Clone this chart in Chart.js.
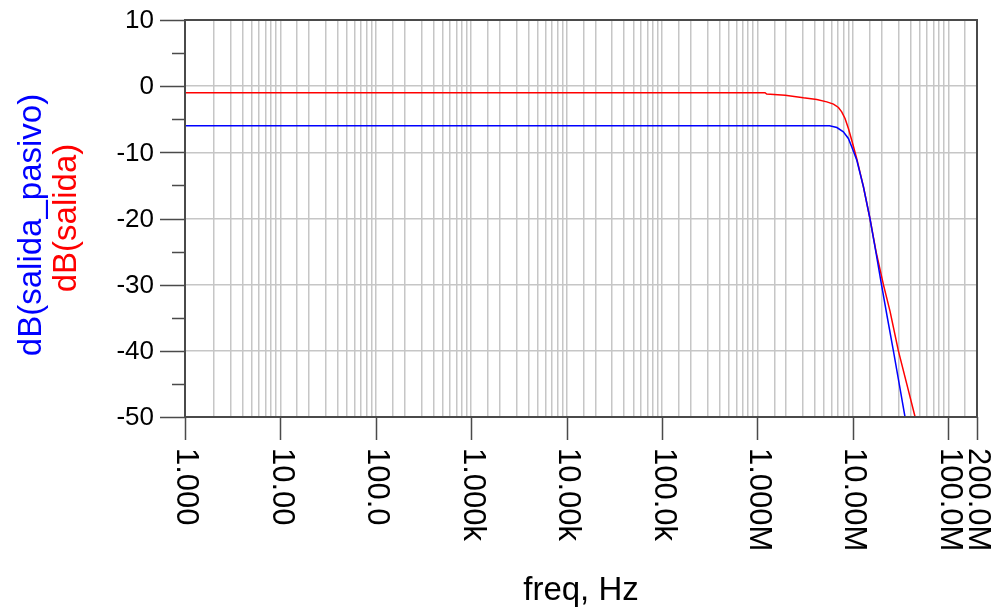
<!DOCTYPE html>
<html>
<head>
<meta charset="utf-8">
<script src="https://cdn.jsdelivr.net/npm/chart.js@4/dist/chart.umd.min.js"></script>
<style>
  html, body { margin: 0; padding: 0; background: #ffffff; }
  #wrap { width: 1000px; height: 607px; position: relative; }
</style>
</head>
<body>
<div id="wrap"><canvas id="bode"></canvas></div>
<script>
// Respuesta en frecuencia: filtro pasivo vs. salida activa
const freqPasivo = [1, 5.7e6, 6.8e6, 7.95e6, 8.97e6, 9.75e6, 11.0e6, 12.9e6, 15.1e6, 17.4e6, 19.95e6, 23.0e6, 26.6e6, 30.6e6, 35.2e6];
const dbPasivo   = [-6.0, -6.0, -6.25, -6.9, -7.9, -9.2, -11.2, -15.2, -20, -25, -30, -35, -40, -45, -50];

const freqSalida = [1, 1.2e6, 1.25e6, 1.95e6, 3.03e6, 4.19e6, 5.33e6, 6.26e6, 7.06e6, 7.64e6, 8.28e6, 8.98e6, 9.75e6, 11.0e6, 12.9e6, 15.1e6, 17.5e6, 20.9e6, 24.5e6, 30e6, 36.7e6, 44.9e6];
const dbSalida   = [-1.0, -1.0, -1.2, -1.36, -1.76, -2.0, -2.37, -2.72, -3.22, -3.88, -4.88, -6.39, -8.2, -11.0, -15.2, -20, -25, -30, -34, -40, -45, -50];

const xTickValues = [1, 10, 100, 1e3, 1e4, 1e5, 1e6, 1e7, 1e8, 2e8];
const xTickLabels = ['1.000', '10.00', '100.0', '1.000k', '10.00k', '100.0k', '1.000M', '10.00M', '100.0M', '200.0M'];
const yTickValues = [10, 0, -10, -20, -30, -40, -50];
const yMinorValues = [5, -5, -15, -25, -35, -45];

const FONT = "'Liberation Sans', Arial, sans-serif";
const AXIS_COLOR = '#4a4a4a';

function toPoints(xs, ys) {
    return xs.map((x, i) => ({ x: x, y: ys[i] }));
}

// Ejes, etiquetas y marco dibujados a mano sobre las escalas de Chart.js
const axisDecor = {
    id: 'axisDecor',
    afterDraw(chart) {
        const { ctx, chartArea: a, scales: { x, y } } = chart;
        ctx.save();

        // marco
        ctx.strokeStyle = AXIS_COLOR;
        ctx.lineWidth = 2;
        ctx.strokeRect(a.left, a.top, a.right - a.left, a.bottom - a.top);

        // marcas eje Y
        ctx.lineWidth = 1.5;
        ctx.beginPath();
        yTickValues.forEach(v => {
            const py = Math.round(y.getPixelForValue(v)) + 0.5;
            ctx.moveTo(a.left - 25, py);
            ctx.lineTo(a.left, py);
        });
        yMinorValues.forEach(v => {
            const py = Math.round(y.getPixelForValue(v)) + 0.5;
            ctx.moveTo(a.left - 13, py);
            ctx.lineTo(a.left, py);
        });
        // marcas eje X
        xTickValues.forEach(v => {
            const px = Math.round(x.getPixelForValue(v)) + 0.5;
            ctx.moveTo(px, a.bottom);
            ctx.lineTo(px, a.bottom + 23);
        });
        ctx.stroke();

        // etiquetas eje Y
        ctx.fillStyle = '#000000';
        ctx.font = '26px ' + FONT;
        ctx.textAlign = 'right';
        ctx.textBaseline = 'middle';
        yTickValues.forEach(v => {
            ctx.fillText(String(v), a.left - 31, y.getPixelForValue(v) + 1);
        });

        // etiquetas eje X (giradas 90 grados)
        ctx.font = '31px ' + FONT;
        ctx.textAlign = 'left';
        ctx.textBaseline = 'middle';
        xTickValues.forEach((v, i) => {
            ctx.save();
            ctx.translate(x.getPixelForValue(v) + 1, a.bottom + 31);
            ctx.rotate(Math.PI / 2);
            ctx.fillText(xTickLabels[i], 0, 0);
            ctx.restore();
        });

        // titulos
        ctx.font = '33px ' + FONT;
        ctx.textAlign = 'center';
        ctx.textBaseline = 'alphabetic';
        ctx.fillText('freq, Hz', (a.left + a.right) / 2, 600);

        ctx.save();
        ctx.translate(41, 225);
        ctx.rotate(-Math.PI / 2);
        ctx.fillStyle = '#0000ff';
        ctx.fillText('dB(salida_pasivo)', 0, 0);
        ctx.restore();

        ctx.save();
        ctx.translate(76, 218);
        ctx.rotate(-Math.PI / 2);
        ctx.fillStyle = '#ff0000';
        ctx.fillText('dB(salida)', 0, 0);
        ctx.restore();

        ctx.restore();
    }
};

new Chart(document.getElementById('bode'), {
    type: 'line',
    data: {
        datasets: [
            {
                label: 'dB(salida_pasivo)',
                data: toPoints(freqPasivo, dbPasivo),
                borderColor: '#0000ff',
                borderWidth: 1.5,
                pointRadius: 0,
                tension: 0,
                fill: false
            },
            {
                label: 'dB(salida)',
                data: toPoints(freqSalida, dbSalida),
                borderColor: '#ff0000',
                borderWidth: 1.5,
                pointRadius: 0,
                tension: 0,
                fill: false
            }
        ]
    },
    options: {
        responsive: true,
        maintainAspectRatio: false,
        animation: false,
        events: [],
        layout: { padding: { left: 185, right: 23, top: 20, bottom: 190 } },
        plugins: {
            legend: { display: false },
            tooltip: { enabled: false }
        },
        scales: {
            x: {
                type: 'logarithmic',
                min: 1,
                max: 2e8,
                ticks: { display: false },
                border: { display: false },
                grid: { color: '#c6c6c6', lineWidth: 1.5, drawTicks: false }
            },
            y: {
                type: 'linear',
                min: -50,
                max: 10,
                ticks: { display: false, stepSize: 10 },
                border: { display: false },
                grid: { color: '#c6c6c6', lineWidth: 1.5, drawTicks: false }
            }
        }
    },
    plugins: [axisDecor]
});
</script>
</body>
</html>
